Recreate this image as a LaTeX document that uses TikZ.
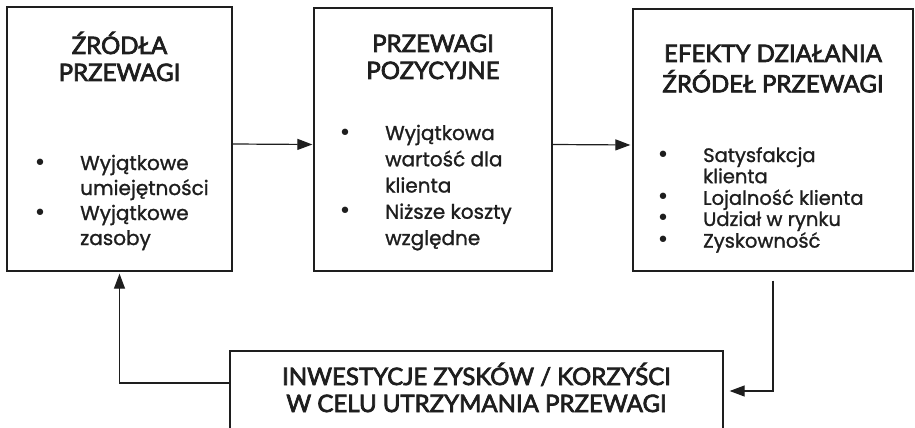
\documentclass[tikz,border=0pt]{standalone}
\usepackage{fontspec}
\setmainfont[FakeBold=1.2]{Poppins}
\newfontfamily\headfont[FakeBold=3]{Lato}
\newfontfamily\bulfont{DejaVu Sans}
\usetikzlibrary{arrows.meta}
\definecolor{ink}{RGB}{30,30,30}

% bullet item start and continuation indent
\newcommand\lbul{\makebox[40pt][l]{\makebox[0pt]{\bulfont\fontsize{22}{22}\selectfont •}}}
\newcommand\lcont{\hspace*{40pt}}

\begin{document}
\begin{tikzpicture}[x=1pt,y=-1pt,
  box/.style={draw=ink, line width=1.3pt, rectangle, inner sep=0pt},
  link/.style={draw=ink, line width=1.2pt, -{Triangle[length=15pt,width=11pt]}},
  head/.style={inner sep=0pt, anchor=base, text=ink,
    font=\headfont\fontsize{24}{27}\selectfont},
  list/.style={inner sep=0pt, anchor=base west, text=ink},
]
\useasboundingbox (0,0) rectangle (915,428);
\clip (0,0) rectangle (915,428);

% the three stages
\node[box, minimum width=225pt, minimum height=264pt] (b1) at (119.5,139) {};
\node[box, minimum width=238pt, minimum height=263pt] (b2) at (433,139.5) {};
\node[box, minimum width=280pt, minimum height=262pt] (b3) at (773,140) {};
% reinvestment box (runs past the lower edge)
\node[box, minimum width=493pt, minimum height=80pt] (b4) at (476.5,391) {};

% headings
\node[head] (t1) at (119.5,54) {\begin{tabular}[t]{@{}c@{}}ŹRÓDŁA\\PRZEWAGI\end{tabular}};
\node[head] (t2) at (433,52) {\begin{tabular}[t]{@{}c@{}}PRZEWAGI\\POZYCYJNE\end{tabular}};
\node[head] (t3) at (773,62) {\begin{tabular}[t]{@{}c@{}}EFEKTY DZIAŁANIA\\ŹRÓDEŁ PRZEWAGI\end{tabular}};
\node[head] (t4) at (476.5,385) {\begin{tabular}[t]{@{}c@{}}INWESTYCJE ZYSKÓW / KORZYŚCI\\W CELU UTRZYMANIA PRZEWAGI\end{tabular}};

% bullet lists
\node[list, font=\fontsize{20}{25}\selectfont] (l1) at (40,170)
  {\begin{tabular}[t]{@{}l@{}}\lbul Wyjątkowe\\\lcont umiejętności\\\lbul Wyjątkowe\\\lcont zasoby\end{tabular}};
\node[list, font=\fontsize{20}{26.25}\selectfont] (l2) at (345,140)
  {\begin{tabular}[t]{@{}l@{}}\lbul Wyjątkowa\\\lcont wartość dla\\\lcont klienta\\\lbul Niższe koszty\\\lcont względne\end{tabular}};
\node[list, font=\fontsize{19.5}{21}\selectfont] (l3) at (663,162)
  {\begin{tabular}[t]{@{}l@{}}\lbul Satysfakcja\\\lcont klienta\\\lbul Lojalność klienta\\\lbul Udział w rynku\\\lbul Zyskowność\end{tabular}};

% flow between stages
\draw[link, shorten >=1pt] ([yshift=-5pt]b1.east) -- ([yshift=-5pt]b2.west);
\draw[link, shorten >=2pt] ([yshift=-5pt]b2.east) -- ([yshift=-5pt]b3.west);
\draw[link, shorten <=9pt, shorten >=6pt] (b3.south) |- (b4.east);
\draw[link, shorten >=2pt] ([yshift=8pt]b4.west) -| (b1.south);
\end{tikzpicture}
\end{document}
